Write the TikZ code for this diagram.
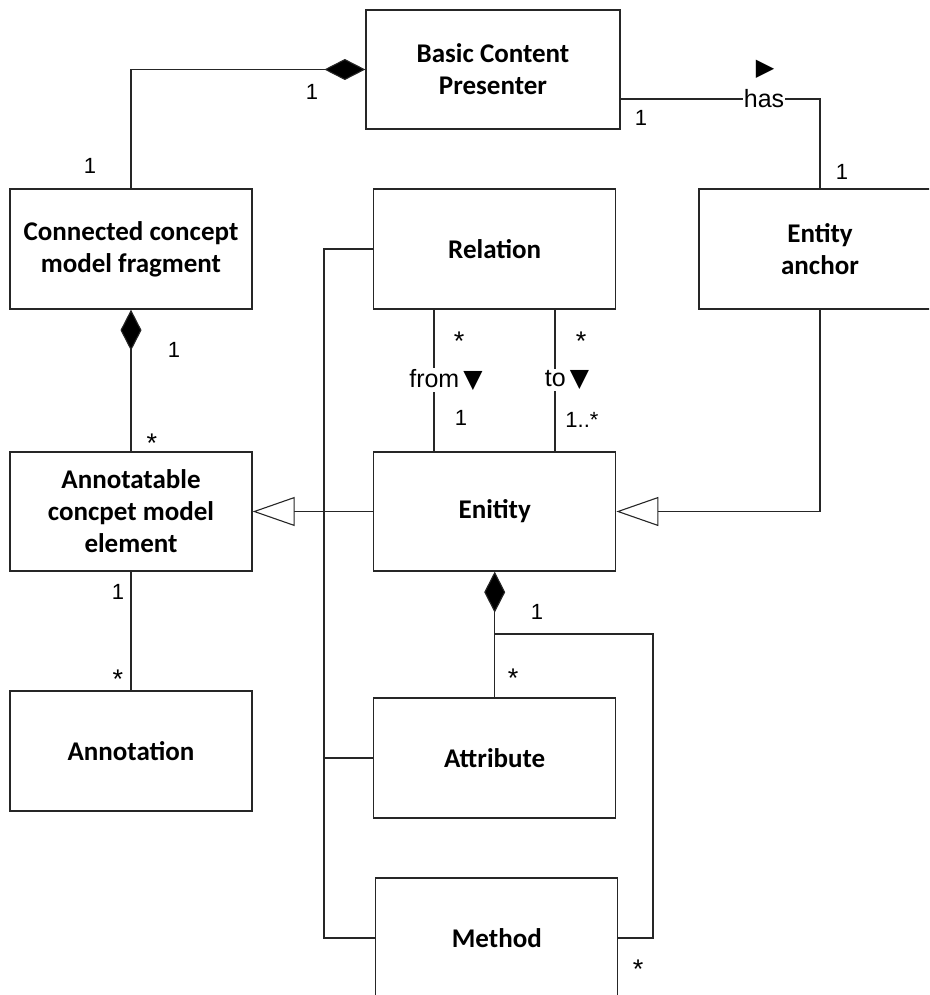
\documentclass[tikz,border=0pt]{standalone}
\usepackage{fontspec}
\setmainfont{Carlito}
\newfontfamily\labfont{Liberation Sans}
\newfontfamily\symfont{DejaVu Sans}
\usetikzlibrary{arrows.meta}

\tikzset{
  cls/.style={draw=black!85, line width=1.3pt, fill=white, rectangle,
    minimum width=242pt, minimum height=120pt, inner sep=0pt, align=center,
    font=\fontsize{27}{32}\selectfont\bfseries},
  link/.style={draw=black!85, line width=1.1pt},
  mult/.style={font=\labfont\fontsize{22}{26}\selectfont, inner sep=0pt},
  many/.style={font=\labfont\fontsize{27}{30}\selectfont, inner sep=0pt},
  role/.style={font=\labfont\fontsize{25}{30}\selectfont, inner sep=1pt, fill=white},
  compo/.style={{Diamond[length=41pt,width=21pt,fill=black]}-},
  compoend/.style={-{Diamond[length=41pt,width=21pt,fill=black]}},
  gen/.style={-{Triangle[open,length=42pt,width=29pt,fill=white]}}
}

\begin{document}
\begin{tikzpicture}[x=1pt,y=-1pt]
\useasboundingbox (0,0) rectangle (929,995);
\clip (0,0) rectangle (929,995);

% classes
\node[cls, minimum width=254pt, minimum height=119pt] (bcp) at (493,69.5) {Basic Content\\Presenter};
\node[cls] (ccmf) at (131,249) {Connected concept\\model fragment};
\node[cls] (rel) at (494.7,249) {Relation};
\node[cls] (anch) at (820,249) {Entity\\anchor};
\node[cls, minimum height=119pt] (acme) at (131,511.5) {Annotatable\\concpet model\\element};
\node[cls, minimum height=119pt] (ent) at (494.7,511.5) {Enitity};
\node[cls] (ann) at (131,751) {Annotation};
\node[cls] (attr) at (494.7,758) {Attribute};
\node[cls] (meth) at (496.8,938) {Method};

% helper points for bends
\coordinate (trunkTop) at (324,249);
\coordinate (trunkBot) at (324,938);
\coordinate (brL) at (494.7,634);
\coordinate (brR) at (653,634);

% composition: presenter -- fragment
\draw[link, compoend] (ccmf.north) |- (bcp.west);
% association "has"
\draw[link] ([yshift=-29.5pt]bcp.east) -| (anch.north);
\node[role] (haslbl) at (764,99) {has};
\node[font=\symfont\fontsize{24}{28}\selectfont, inner sep=0pt] (hasdir) at (765,69) {▶};

% composition: fragment -- annotatable element
\draw[link, compo] (ccmf.south) -- (acme.north);

% relation ends
\draw[link] ([xshift=-60.7pt]rel.south) -- ([xshift=-60.7pt]ent.north);
\draw[link] ([xshift=60.3pt]rel.south) -- ([xshift=60.3pt]ent.north);
\node[role] (fromlbl) at (446,380) {from\,{\symfont▼}};
\node[role] (tolbl) at (567,380) {to\,{\symfont▼}};

% generalizations
\draw[link] (rel.west) -- (trunkTop) -- (trunkBot) -- (meth.west);
\draw[link] (attr.west) -- (attr.west -| trunkTop);
\draw[link, gen] (ent.west) -- (acme.east);
\draw[link, gen] (anch.south) |- (ent.east);

% annotation association
\draw[link] (acme.south) -- (ann.north);

% composition: entity -- attribute / method
\draw[link, compo] (ent.south) -- (attr.north);
\draw[link] (brL) -- (brR) |- (meth.east);

% multiplicities
\node[mult] (m1) at (312,92) {1};
\node[mult] (m2) at (90,166) {1};
\node[mult] (m3) at (641,118) {1};
\node[mult] (m4) at (842,172) {1};
\node[mult] (m5) at (174,350) {1};
\node[many] (m6) at (152,443) {*};
\node[many] (m7) at (459,341) {*};
\node[many] (m8) at (581,341) {*};
\node[mult] (m9) at (461,418) {1};
\node[mult] (m10) at (582,420) {1..*};
\node[mult] (m11) at (118,592) {1};
\node[many] (m12) at (118,679) {*};
\node[mult] (m13) at (537,612) {1};
\node[many] (m14) at (513,678) {*};
\node[many] (m15) at (638,969) {*};
\end{tikzpicture}
\end{document}
